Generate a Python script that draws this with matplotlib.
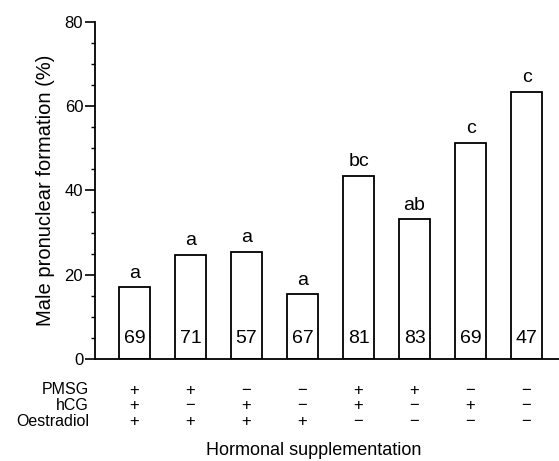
import matplotlib
matplotlib.use("Agg")
import matplotlib.pyplot as plt
from matplotlib.ticker import MultipleLocator

plt.rcParams['font.family'] = ['Liberation Sans', 'DejaVu Sans']

values = [17, 24.7, 25.5, 15.4, 43.5, 33.2, 51.3, 63.4]
letters = ['a', 'a', 'a', 'a', 'bc', 'ab', 'c', 'c']
counts = ['69', '71', '57', '67', '81', '83', '69', '47']
row_names = ['PMSG', 'hCG', 'Oestradiol']
pmsg = ['+', '+', '−', '−', '+', '+', '−', '−']
hcg = ['+', '−', '+', '−', '+', '−', '+', '−']
oestradiol = ['+', '+', '+', '+', '−', '−', '−', '−']
rows = [pmsg, hcg, oestradiol]

fig = plt.figure(figsize=(5.59, 4.61), dpi=100)
ax = fig.add_axes([95/559, 1 - 359/461, 1 - 95/559, (359 - 22)/461])

x = list(range(len(values)))
ax.bar(x, values, width=0.55, facecolor='white', edgecolor='black', linewidth=1.3)

ax.set_xlim(-0.705, 7.58)
ax.set_ylim(0, 80)
ax.spines['top'].set_visible(False)
ax.spines['right'].set_visible(False)
ax.spines['left'].set_linewidth(1.3)
ax.spines['bottom'].set_linewidth(1.3)
ax.set_xticks([])
ax.yaxis.set_major_locator(MultipleLocator(20))
ax.yaxis.set_minor_locator(MultipleLocator(5))
ax.tick_params(axis='y', which='major', direction='out', length=7, width=1.2, labelsize=12, pad=1.5)
ax.tick_params(axis='y', which='minor', direction='out', length=3, width=1.0)

for xi, v, l, c in zip(x, values, letters, counts):
    ax.annotate(l, (xi, v), xytext=(0, 4), textcoords='offset points',
                ha='center', va='bottom', fontsize=14)
    ax.text(xi, 4.9, c, ha='center', va='center', fontsize=14)

ax.set_ylabel('Male pronuclear formation (%)', fontsize=14.5)
ax.yaxis.set_label_coords(-(95 - 46)/(559 - 95), 0.5)
ax.yaxis.label.set_va('center')

row_y = [390, 405.5, 421.5]
for name, vals, py in zip(row_names, rows, row_y):
    yfig = 1 - py/461
    fig.text(89/559, yfig, name, ha='right', va='center', fontsize=11.5)
    for xi, s in zip(x, vals):
        xd = ax.transData.transform((xi, 0))[0]
        fig.text(xd/559, yfig, s, ha='center', va='center', fontsize=12)

fig.text(314/559, 1 - 450/461, 'Hormonal supplementation', ha='center', va='center', fontsize=13)

fig.savefig('out.png', dpi=100)
